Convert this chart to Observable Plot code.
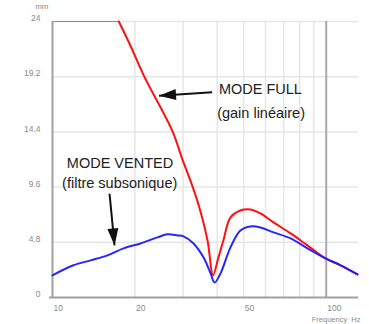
<!DOCTYPE html>
<html>
<head>
<meta charset="utf-8">
<script src="https://cdn.jsdelivr.net/npm/d3@7"></script>
<script src="https://cdn.jsdelivr.net/npm/@observablehq/plot@0.6"></script>
<style>
  html, body { margin: 0; padding: 0; background: #fff; }
  #chart svg { display: block; }
</style>
</head>
<body>
<div id="chart"></div>
<script>
// ---- data (frequency in Hz, excursion in mm) ----
const fullFreq  = [17.47, 19.27, 21.56, 27.37, 29.78, 32.38, 34.23, 36.85, 38.6, 40.3, 42.1, 44.7, 48.6, 52.9, 57.5, 64.2, 74.1, 85.4, 99.4, 112.8, 130.1];
const fullMM    = [24.0, 21.89, 19.29, 14.51, 12.06, 9.74, 8.0, 4.96, 1.93, 3.4, 4.96, 6.96, 7.57, 7.66, 7.31, 6.53, 5.57, 4.53, 3.40, 2.80, 2.01];

const ventFreq  = [10, 11.93, 13.77, 15.88, 18.17, 20.96, 24.19, 26.31, 28.62, 30.1, 32.75, 35.6, 37.8, 39.1, 41.1, 44.7, 48.6, 52.9, 57.5, 64.2, 74.1, 85.4, 99.4, 112.8, 130.1];
const ventMM    = [1.93, 2.80, 3.23, 3.66, 4.27, 4.70, 5.23, 5.49, 5.40, 5.31, 4.70, 3.49, 2.10, 1.30, 2.10, 4.36, 5.83, 6.18, 6.09, 5.66, 5.14, 4.27, 3.40, 2.80, 2.01];

const yTickValues = [0, 4.8, 9.6, 14.4, 19.2, 24];
const yTickLabels = ["0", "4.8", "9.6", "14.4", "19.2", "24"];
const xGridValues = [20, 30, 40, 50, 60, 70, 80, 90];
const xTickValues = [10, 20, 50, 100];
const xTickLabels = ["10", "20", "50", "100"];
const xDomain = [10, 131.2];
const yDomain = [0, 24];

const noteFreq = [57.5, 57.8, 17.64, 17.6];
const noteMM   = [18.07, 16.05, 11.67, 9.91];
const noteText = ["MODE FULL", "(gain linéaire)", "MODE VENTED", "(filtre subsonique)"];

const arrowFromFreq = [38.3, 16.16];
const arrowFromMM   = [17.84, 9.02];
const arrowToFreq   = [24.5, 16.85];
const arrowToMM     = [17.55, 4.53];

const full = fullFreq.map((f, i) => ({f, mm: fullMM[i]}));
const vent = ventFreq.map((f, i) => ({f, mm: ventMM[i]}));
const yTicks = yTickValues.map((v, i) => ({v, label: yTickLabels[i]}));
const xTicks = xTickValues.map((v, i) => ({v, label: xTickLabels[i]}));
const notes = noteText.map((text, i) => ({f: noteFreq[i], mm: noteMM[i], text}));

const W = 369, H = 324, ML = 52, MR = 11, MT = 21, MB = 27;
const xs = Plot.scale({x: {type: "log", domain: xDomain, range: [ML, W - MR]}});
const ys = Plot.scale({y: {domain: yDomain, range: [H - MB, MT]}});
const arrows = arrowFromFreq.map((f1, i) => {
  const a = {f1, mm1: arrowFromMM[i], f2: arrowToFreq[i], mm2: arrowToMM[i]};
  const dx = xs.apply(a.f2) - xs.apply(a.f1);
  const dy = ys.apply(a.mm2) - ys.apply(a.mm1);
  a.angle = Math.atan2(dx, -dy) * 180 / Math.PI; // rotation of an "up" pointing head
  return a;
});

// filled, elongated arrow head symbol: tip at origin, pointing up
const headSymbol = {
  draw(context) {
    const L = 17, Wd = 5.5;
    context.moveTo(0, 0);
    context.lineTo(Wd, L);
    context.lineTo(-Wd, L);
    context.closePath();
  }
};

const tickFont = "'Liberation Sans', Arial, sans-serif";
const noteFont = "'Liberation Sans', Arial, sans-serif";

const chart = Plot.plot({
  width: W,
  height: H,
  marginLeft: ML,
  marginRight: MR,
  marginTop: MT,
  marginBottom: MB,
  style: {background: "#fff", overflow: "visible"},
  x: {type: "log", domain: xDomain, axis: null},
  y: {domain: yDomain, axis: null},
  marks: [
    // grid
    Plot.ruleX(xGridValues, {stroke: "#e6e6e6", strokeWidth: 1.5}),
    Plot.ruleY(yTickValues.filter(v => v > 0), {stroke: "#e6e6e6", strokeWidth: 1.5}),
    Plot.ruleY([24], {x1: xDomain[0], x2: fullFreq[0], stroke: "#8a8a8a", strokeWidth: 1.2}),
    Plot.ruleX([100], {stroke: "#aaaaaa", strokeWidth: 2}),
    // axes lines
    Plot.ruleX([10], {stroke: "#a0a0a0", strokeWidth: 2}),
    Plot.ruleY([0], {stroke: "#a0a0a0", strokeWidth: 2, insetLeft: -3}),
    // curves
    Plot.line(full, {x: "f", y: "mm", stroke: "#ff1010", strokeWidth: 2, curve: "catmull-rom"}),
    Plot.line(vent, {x: "f", y: "mm", stroke: "#1a1aff", strokeWidth: 2, curve: "catmull-rom", strokeOpacity: 0.95}),
    // tick labels
    Plot.text(yTicks, {x: xDomain[0], y: "v", text: "label", textAnchor: "end", dx: -12, dy: -3,
      fill: "#8a8a8a", fontSize: 8.5, fontFamily: tickFont}),
    Plot.text(["mm"], {x: xDomain[0], y: 24, text: d => d, textAnchor: "end", dx: -4, dy: -15,
      fill: "#8a8a8a", fontSize: 8, fontFamily: tickFont}),
    Plot.text(xTicks, {x: "v", y: 0, text: "label", textAnchor: "start", dx: 1, dy: 11,
      fill: "#8a8a8a", fontSize: 8.5, fontFamily: tickFont}),
    Plot.text(["Frequency  Hz"], {x: xDomain[1], y: 0, text: d => d, textAnchor: "end", dx: 2, dy: 22,
      fill: "#8a8a8a", fontSize: 7.5, fontFamily: tickFont}),
    // annotations
    Plot.text(notes, {x: "f", y: "mm", text: "text", fill: "#222", fontSize: 14.5, fontFamily: noteFont}),
    Plot.link(arrows, {x1: "f1", y1: "mm1", x2: "f2", y2: "mm2", stroke: "#111", strokeWidth: 2}),
    Plot.dot(arrows, {x: "f2", y: "mm2", symbol: headSymbol, r: 5, fill: "#111", stroke: "none", rotate: "angle"})
  ]
});
document.getElementById("chart").appendChild(chart);
</script>
</body>
</html>
